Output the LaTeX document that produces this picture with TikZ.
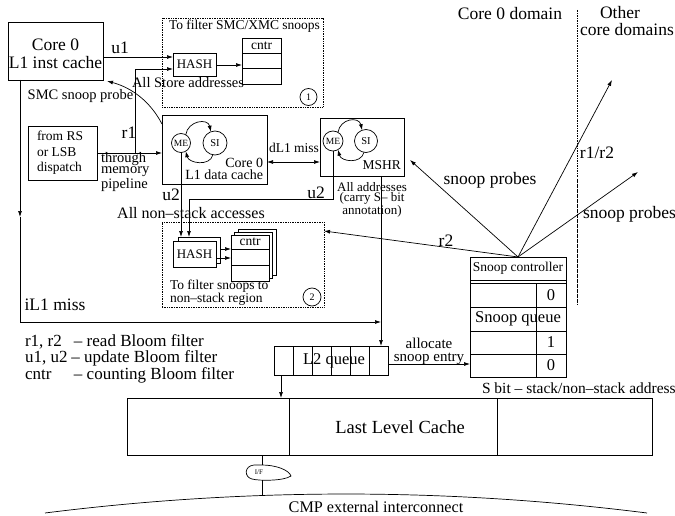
\documentclass[tikz,border=0pt]{standalone}
\usepackage{fontspec}
\setmainfont{Liberation Serif}
\usetikzlibrary{arrows.meta,calc}
\newcommand\fsz[2]{\fontsize{#1}{#2}\selectfont}
\begin{document}
\begin{tikzpicture}[x=1pt,y=-1pt,line width=0.7pt,
  >={Latex[length=6pt,width=4pt]},
  every node/.style={inner sep=0pt,outer sep=0pt},
  boxnw/.style={draw,fill=white,anchor=north west,rectangle},
  dotbox/.style={draw,densely dotted,anchor=north west,rectangle},
  st/.style={circle,draw,fill=white},
  big/.style={font=\fsz{17.5}{18}},
  mid/.style={font=\fsz{14.5}{15}},
  sml/.style={font=\fsz{13.5}{14}},
  dashdotline/.style={line width=0.5pt,dash pattern=on 2.5pt off 1pt on 0.5pt off 1pt}
]
\useasboundingbox (0,0) rectangle (675,516);

% ---- Core 0 L1 inst cache
\node[boxnw,minimum width=95pt,minimum height=58pt] (core) at (8,22) {};
\node[big,align=center] (coretxt) at (55.5,54) {Core 0\\L1 inst cache};

% ---- filter 1
\node[dotbox,minimum width=161pt,minimum height=89pt] (f1) at (162,18) {};
\node[sml] (f1t) at (244.5,26.5) {To filter SMC/XMC snoops};
\node[boxnw,minimum width=43pt,minimum height=23pt,font=\fsz{13}{13}] (hash1) at (173,53) {HASH};
\node[boxnw,minimum width=39pt,minimum height=46pt] (cntr1) at (242,38) {};
\draw (242,53) -- (281,53);
\draw (242,68) -- (281,68);
\node[sml] (cntr1t) at (261.5,45.5) {cntr};
\node[st,minimum size=17pt,font=\fsz{10}{10}] (c1) at (308.5,97) {1};

\draw[->] (core.east |- 0,57) -- (hash1.west |- 0,57);
\node[big] (u1l) at (120,48) {u1};
\coordinate (r1b) at (135,153);
\draw[->] (r1b) |- (hash1.west |- 0,69);
\node[big] (r1l) at (129,133) {r1};
\node[mid] (storel) at (188,83) {All Store addresses};
\draw[->] (hash1.east |- 0,65) -- (cntr1.west |- 0,65);

% ---- from RS
\node[boxnw,minimum width=69pt,minimum height=54pt] (rs) at (28,126) {};
\node[font=\fsz{13.5}{15.5},align=left,anchor=west] (rst) at (37,153) {from RS\\or LSB\\dispatch};

% ---- L1 data cache
\node[boxnw,minimum width=105pt,minimum height=69pt] (dc) at (162,115) {};
\draw[->] (rs.east |- 0,153) -- (dc.west |- 0,153);
\node[font=\fsz{14.5}{11},align=left,anchor=west] (pipel) at (101,172) {through\\memory\\pipeline};
\node[font=\fsz{14}{12},align=right,anchor=east] (dct) at (263,169) {Core 0\\L1 data cache};
\node[st,minimum size=19pt,font=\fsz{9.5}{9.5}] (me1) at (181,143) {ME};
\node[st,minimum size=24pt,font=\fsz{10.5}{10.5}] (si1) at (215,143) {SI};
\draw[->] (me1.60) .. controls +(2,-14) and +(-3,-14) .. (si1.110);
\draw[->] (si1.-100) .. controls +(-3,12) and +(3,12) .. (me1.-60);

% SMC snoop probe
\coordinate (smcs) at (162,124);
\coordinate (smce) at (107,81);
\draw[->] (smcs) .. controls (150.7,102.3) and (132.7,88) .. (smce);
\node[mid] (smcl) at (80.5,96) {SMC snoop probe};

% ---- MSHR
\node[boxnw,minimum width=84pt,minimum height=58pt] (mshr) at (320,118) {};
\node[sml,anchor=east] (mshrt) at (401,165) {MSHR};
\node[st,minimum size=20pt,font=\fsz{9.5}{9.5}] (me2) at (333,141) {ME};
\node[st,minimum size=23pt,font=\fsz{10.5}{10.5}] (si2) at (366,141) {SI};
\draw[->] (me2.60) .. controls +(2,-14) and +(-3,-14) .. (si2.110);
\draw[->] (si2.-100) .. controls +(-3,12) and +(3,12) .. (me2.-60);

\draw[<->] (dc.east |- 0,162) -- (mshr.west |- 0,162);
\node[sml] (dl1l) at (294,148) {dL1 miss};

% ---- filter 2
\node[dotbox,minimum width=162pt,minimum height=85pt] (f2) at (162,222) {};
\node[boxnw,minimum width=42pt,minimum height=26pt] (hash2b) at (178,237) {};
\node[boxnw,minimum width=43pt,minimum height=26pt,font=\fsz{13}{13}] (hash2) at (173,241) {HASH};
\node[boxnw,minimum width=38pt,minimum height=46pt] (cntr2c) at (238,229) {};
\node[boxnw,minimum width=38pt,minimum height=46pt] (cntr2b) at (234.5,232) {};
\node[boxnw,minimum width=38pt,minimum height=46pt] (cntr2) at (231,235) {};
\draw (231,249) -- (269,249);
\draw (231,265) -- (269,265);
\node[sml] (cntr2t) at (250,242) {cntr};
\draw[->] (hash2b.east |- 0,249) -- (cntr2.west |- 0,249);
\draw[->] (hash2.east |- 0,258) -- (cntr2.west |- 0,258);
\node[font=\fsz{13.5}{10.5},align=left,anchor=west] (f2t) at (170,293) {To filter snoops to\\non–stack region};
\node[st,minimum size=18pt,font=\fsz{10}{10}] (c2) at (312,297) {2};

% u2 paths
\draw[->] (me1.south) -- (me1.south |- hash2b.north);
\coordinate (u2t) at (189,199);
\draw (me2.south) |- (u2t);
\draw[->] (u2t) -- (u2t |- hash2b.north);
\node[big] (u2a) at (171,195) {u2};
\node[big] (u2b) at (316,193) {u2};
\node[font=\fsz{16}{16}] (nsl) at (191,213) {All non–stack accesses};
\node[font=\fsz{13}{10.5},align=center] (alll) at (372,200) {All addresses\\(carry S– bit\\annotation)};

% ---- L2 queue
\node[boxnw,minimum width=114pt,minimum height=29pt] (l2q) at (274,346) {};
\foreach \cx in {293,312,331,350,369} \draw (\cx,346) -- (\cx,375);
\node[font=\fsz{16.5}{16.5}] (l2qt) at (334,361) {L2 queue};
\draw[->] (mshr.south -| 381,0) -- (l2q.north -| 381,0);

% iL1 miss
\coordinate (il1a) at (core.south -| 20,0);
\coordinate (il1m) at (20,217);
\coordinate (il1c) at (20,322);
\coordinate (il1e) at (381,322);
\draw[->] (il1a) -- (il1m);
\draw (il1m) -- (il1c);
\draw[->] (il1c) -- (il1e);
\node[big] (il1l) at (55,305) {iL1 miss};

% legend
\node[font=\fsz{17}{14.5},align=left,anchor=north west] (leg) at (25,335)
  {\makebox[49pt][l]{r1, r2}– read Bloom filter\\
   \makebox[46.5pt][l]{u1, u2}– update Bloom filter\\
   \makebox[49pt][l]{cntr}– counting Bloom filter};

% ---- snoop controller
\node[boxnw,minimum width=96pt,minimum height=120pt] (snoop) at (470,257) {};
\draw (470,280) -- (566,280);
\draw (470,283) -- (566,283);
\draw (470,307) -- (566,307);
\draw (470,331) -- (566,331);
\draw (470,354) -- (566,354);
\draw (536,283) -- (536,377);
\node[sml] (sct) at (518,268.5) {Snoop controller};
\node[font=\fsz{16.5}{16.5}] (sq0) at (551,295) {0};
\node[font=\fsz{16.5}{16.5}] (sqt) at (518,319) {Snoop queue};
\node[font=\fsz{16.5}{16.5}] (sq1) at (551,342.5) {1};
\node[font=\fsz{16.5}{16.5}] (sq2) at (551,365.5) {0};
\node[font=\fsz{15.5}{15.5},anchor=west] (sbit) at (482,388) {S bit – stack/non–stack address};

\draw[->] (l2q.east |- 0,364) -- (snoop.west |- 0,364);
\node[font=\fsz{15}{13},align=center] (allocl) at (429,351) {allocate\\snoop entry};

% snoop probes
\coordinate (p1) at (410,160);
\coordinate (p2) at (612,80);
\coordinate (p3) at (638,172);
\draw[->] (snoop.north) -- (f2.east |- 0,231);
\draw[->] (snoop.north) -- (p1);
\draw[->] (snoop.north) -- (p2);
\draw[->] (snoop.north) -- (p3);
\node[big] (r2l) at (446,241) {r2};
\node[big] (spl) at (490,180) {snoop probes};
\node[big] (r12l) at (597,153) {r1/r2};
\node[big,anchor=west] (spr) at (583,214) {snoop probes};

% domains
\coordinate (dl0) at (577,10);
\coordinate (dl1) at (577,305);
\draw[dashdotline] (dl0) -- (dl1);
\node[big] (cd0) at (510,14) {Core 0 domain};
\node[big] (oth) at (620,13) {Other};
\node[big] (ocd) at (627,29.5) {core domains};

% ---- LLC
\node[boxnw,minimum width=525pt,minimum height=57pt] (llc) at (127,398) {};
\draw (289,398) -- (289,455);
\draw (497,398) -- (497,455);
\node[font=\fsz{18.5}{18.5}] (llct) at (400,427) {Last Level Cache};
\draw[->] (l2q.south -| 281,0) -- (llc.north -| 281,0);

% I/F
\coordinate (ift) at (262,465);
\coordinate (ifb) at (262,480);
\coordinate (arcp) at (262,495.5);
\draw (llc.south -| ift) -- (ift);
\draw (ift) .. controls (276,465) and (289,470) .. (291,476)
      .. controls (284,481) and (259,481) .. (252,479)
      .. controls (244,477) and (244,466) .. (254,465) -- cycle;
\node[font=\fsz{7}{7}] (iftxt) at (259,472) {I/F};
\draw (ifb) -- (arcp);
\coordinate (a0) at (45,513);
\coordinate (a1) at (647,513);
\draw (a0) .. controls (245.7,487.7) and (446.3,487.7) .. (a1);
\node[font=\fsz{16.2}{16.2}] (cmpt) at (376,507) {CMP external interconnect};
\end{tikzpicture}
\end{document}
